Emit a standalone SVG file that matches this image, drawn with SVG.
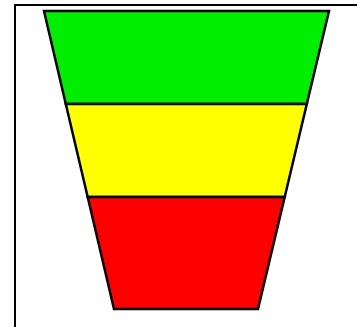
<svg xmlns="http://www.w3.org/2000/svg" width="357" height="327" viewBox="0 0 357 327">
<style>
.frame{fill:none;stroke:#000;stroke-width:2}
.band{stroke:#000;stroke-width:2.5;stroke-linejoin:miter}
</style>
<rect width="357" height="327" fill="#fff"/>
<path class="frame" d="M15,327 V5 H357"/>
<g id="funnel">
<g id="top"><polygon class="band" fill="#00ee00" points="44,11 329,11 306.8,104 65.8,104"/></g>
<g id="middle"><polygon class="band" fill="#ffff00" points="65.8,104 306.8,104 284.7,197 87.7,197"/></g>
<g id="bottom"><polygon class="band" fill="#ff0000" points="87.7,197 284.7,197 258,309 114,309"/></g>
</g>
<g id="connectors"/>
</svg>
